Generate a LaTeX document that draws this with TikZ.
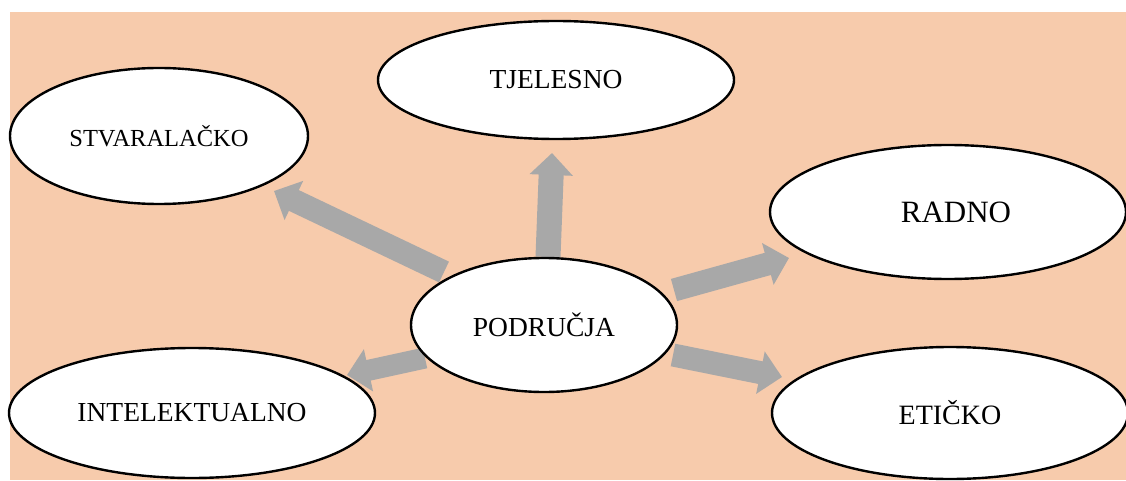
\documentclass[tikz,border=0pt]{standalone}
\usepackage{fontspec}
\setmainfont{Liberation Serif}
\usetikzlibrary{shapes.geometric,arrows.meta}
\definecolor{peach}{HTML}{F7CBAC}
\definecolor{arrowgray}{HTML}{A8A8A8}
\begin{document}
\begin{tikzpicture}[x=1pt,y=-1pt,
  oval/.style={ellipse, draw=black, line width=2.4pt, fill=white, inner sep=0pt},
  blockarrow/.style={draw=arrowgray, line width=23pt, -{Triangle[length=22pt,width=42pt]}},
  big/.style={font=\fontsize{27.5}{30}\selectfont},
  small/.style={font=\fontsize{24.5}{27}\selectfont}]
\useasboundingbox (0,0) rectangle (1126,481);
\fill[peach] (10,12) rectangle (1126,480);
% arrow end points
\coordinate (t1) at (444,272); \coordinate (h1) at (274,191);
\coordinate (t2) at (548,257); \coordinate (h2) at (552,153);
\coordinate (t3) at (674,290); \coordinate (h3) at (789,258);
\coordinate (t4) at (673,355); \coordinate (h4) at (782,377);
\coordinate (t5) at (425,358); \coordinate (h5) at (347,375);
\draw[blockarrow] (t1) -- (h1);
\draw[blockarrow, line width=25pt] (t2) -- (h2);
\draw[blockarrow] (t3) -- (h3);
\draw[blockarrow] (t4) -- (h4);
\draw[blockarrow, line width=21pt] (t5) -- (h5);
% ovals
\node[oval, small, minimum width=298pt, minimum height=136pt] (stv) at (159,136) {STVARALAČKO};
\node[oval, big, minimum width=356pt, minimum height=118pt] (tje) at (556,80) {TJELESNO};
\node[oval, font=\fontsize{31}{34}\selectfont, minimum width=356pt, minimum height=134pt] (rad) at (948,212) {\hspace*{16pt}RADNO};
\node[oval, big, minimum width=266pt, minimum height=134pt] (pod) at (544,325) {PODRUČJA};
\node[oval, big, minimum width=366pt, minimum height=130pt] (int) at (192,413) {INTELEKTUALNO};
\node[oval, font=\fontsize{28}{31}\selectfont, minimum width=356pt, minimum height=132pt] (eti) at (950,413) {ETIČKO};
\end{tikzpicture}
\end{document}
